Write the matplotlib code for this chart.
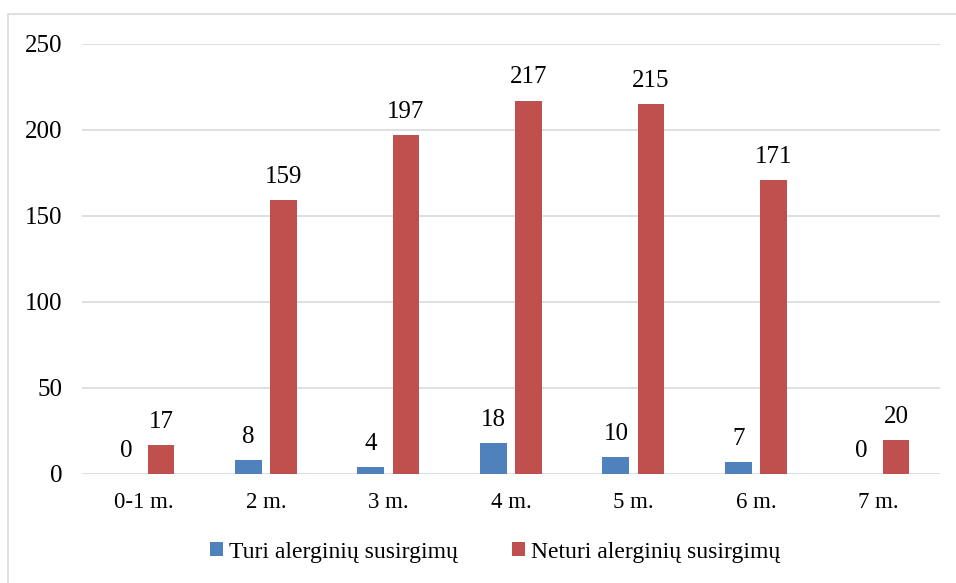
import matplotlib.pyplot as plt
import matplotlib.patches as mpatches
import numpy as np

plt.rcParams['font.family'] = ['Liberation Serif', 'DejaVu Serif']

categories = ["0-1 m.", "2 m.", "3 m.", "4 m.", "5 m.", "6 m.", "7 m."]
turi = [0, 8, 4, 18, 10, 7, 0]
neturi = [17, 159, 197, 217, 215, 171, 20]
series_names = ["Turi alerginių susirgimų", "Neturi alerginių susirgimų"]

blue = "#4F81BD"
red = "#C0504D"

fig = plt.figure(figsize=(9.56, 5.83), dpi=100)
ax = fig.add_axes([0.086, 0.187, 0.897, 0.738])

x = np.arange(len(categories))
w = 0.22
off = 0.143
b1 = ax.bar(x - off, turi, w, color=blue, label=series_names[0], zorder=3)
b2 = ax.bar(x + off, neturi, w, color=red, label=series_names[1], zorder=3)

for rects, vals in ((b1, turi), (b2, neturi)):
    for r, v in zip(rects, vals):
        ax.text(r.get_x() + r.get_width() / 2, v + 7, str(v),
                ha="center", va="bottom", fontsize=18)

ax.set_xlim(-0.5, len(categories) - 0.5)
ax.set_ylim(0, 250)
ax.set_yticks(range(0, 251, 50))
ax.set_xticks(x)
ax.set_xticklabels(categories)
ax.tick_params(axis="both", length=0)
ax.tick_params(axis="y", pad=14, labelsize=18)
ax.tick_params(axis="x", pad=13, labelsize=16.5)
ax.yaxis.grid(True, color="#D9D9D9", linewidth=1.2, zorder=0)
for s in ax.spines.values():
    s.set_visible(False)

fig.legend(handles=[b1, b2], loc="center", bbox_to_anchor=(0.518, 0.053),
           ncol=2, frameon=False, fontsize=17, handlelength=0.55,
           handleheight=0.55, handletextpad=0.25, columnspacing=2.3)

# light chart border like the source
fig.patches.append(mpatches.Rectangle((8 / 956, -0.01), 1.0, 1 - 14 / 583 + 0.01,
                                      transform=fig.transFigure, fill=False,
                                      edgecolor="#D9D9D9", linewidth=1.2))

fig.savefig("out.png", dpi=100)
